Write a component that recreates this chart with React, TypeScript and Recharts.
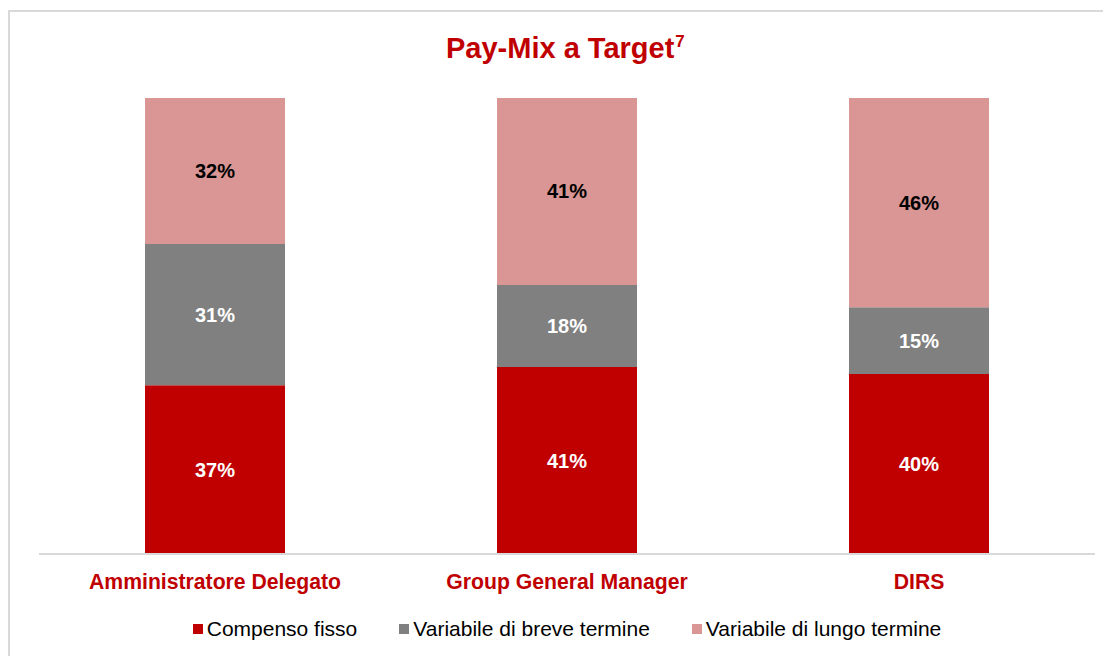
import { BarChart, Bar, XAxis, YAxis, Legend, LabelList } from 'recharts'

const roles = ['Amministratore Delegato', 'Group General Manager', 'DIRS']
const compensoFisso = [37, 41, 39.5]
const variabileBreve = [31, 18, 14.6]
const variabileLungo = [32, 41, 45.9]

const seriesNames = ['Compenso fisso', 'Variabile di breve termine', 'Variabile di lungo termine']
const seriesColors = ['#c00000', '#808080', '#d99694']
const labelColors = ['#ffffff', '#ffffff', '#000000']

const data = roles.map((role, i) => ({
  role,
  fisso: compensoFisso[i],
  breve: variabileBreve[i],
  lungo: variabileLungo[i],
}))

const FONT = '"Liberation Sans", Arial, sans-serif'

function makeLabel(color: string) {
  return (props: any) => {
    const { x, y, width, height, value } = props
    return (
      <text
        x={Number(x) + Number(width) / 2}
        y={Number(y) + Number(height) / 2}
        textAnchor="middle"
        dominantBaseline="central"
        fill={color}
        fontFamily={FONT}
        fontWeight="bold"
        fontSize={20}
      >
        {Math.round(Number(value))}%
      </text>
    )
  }
}

function RoleTick(props: any) {
  const { x, y, payload } = props
  return (
    <text x={x} y={y + 35} textAnchor="middle" fill="#c00000" fontFamily={FONT} fontWeight="bold" fontSize={21.2}>
      {payload.value}
    </text>
  )
}

function LegendContent() {
  return (
    <div style={{ display: 'flex', justifyContent: 'center', gap: 42, height: 30, lineHeight: '30px', fontFamily: FONT, fontSize: 21, color: '#000' }}>
      {seriesNames.map((name, i) => (
        <div key={name} style={{ display: 'flex', alignItems: 'center' }}>
          <span style={{ width: 10, height: 10, background: seriesColors[i], marginRight: 4, display: 'inline-block' }} />
          <span>{name}</span>
        </div>
      ))}
    </div>
  )
}

export default function App() {
  const keys = ['fisso', 'breve', 'lungo']
  return (
    <div
      style={{
        position: 'relative',
        top: 2,
        width: 1103,
        height: 648,
        borderTop: '2px solid #d9d9d9',
        borderLeft: '2px solid #d9d9d9',
        boxSizing: 'border-box',
        overflow: 'hidden',
      }}
    >
      <div style={{ position: 'absolute', left: 436, top: 22, fontFamily: FONT, fontWeight: 'bold', fontSize: 29, lineHeight: '29px', color: '#c00000', whiteSpace: 'nowrap' }}>
        Pay-Mix a Target<span style={{ fontSize: 17, position: 'relative', top: -11, marginLeft: 1 }}>7</span>
      </div>
      <BarChart width={1100} height={646} data={data} margin={{ top: 86, right: 15, bottom: 14, left: 29 }}>
        <XAxis
          dataKey="role"
          height={60}
          axisLine={{ stroke: '#d9d9d9', strokeWidth: 2 }}
          tickLine={false}
          tickSize={0}
          tickMargin={0}
          tick={<RoleTick />}
          interval={0}
        />
        <YAxis hide domain={[0, 100]} />
        <Legend verticalAlign="bottom" content={<LegendContent />} />
        {keys.map((k, i) => (
          <Bar key={k} dataKey={k} name={seriesNames[i]} stackId="a" fill={seriesColors[i]} barSize={140} isAnimationActive={false}>
            <LabelList dataKey={k} content={makeLabel(labelColors[i])} />
          </Bar>
        ))}
      </BarChart>
    </div>
  )
}
